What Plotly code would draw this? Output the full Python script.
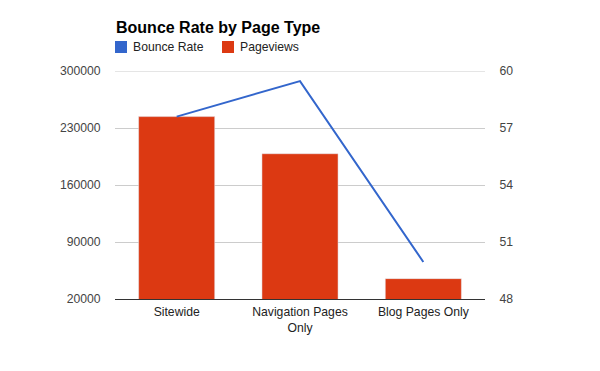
import plotly.graph_objects as go

categories = ["Sitewide", "Navigation Pages<br>Only", "Blog Pages Only"]
pageviews = [244000, 198400, 45000]
bounce_rate = [57.6, 59.47, 49.95]
left_ticks = [20000, 90000, 160000, 230000, 300000]
right_ticks = [48, 51, 54, 57, 60]
series_names = ["Bounce Rate", "Pageviews"]

RED = "#dc3912"
BLUE = "#3366cc"
FONT = "Liberation Sans, Arial, sans-serif"
FS = 12.2

W, H = 600, 371
ML, MR, MT, MB = 115, 115, 71, 72
PW, PH = W - ML - MR, H - MT - MB


def px(x):
    return (x - ML) / PW


def py(y):
    return (H - MB - y) / PH


fig = go.Figure()
fig.add_trace(go.Bar(x=categories, y=pageviews, marker_color=RED, name=series_names[1],
                     showlegend=False, yaxis="y"))
fig.add_trace(go.Scatter(x=categories, y=bounce_rate, mode="lines", name=series_names[0],
                         line=dict(color=BLUE, width=2), showlegend=False, yaxis="y2"))

# manual legend (square swatches like the reference)
legend_items = [(series_names[0], BLUE, 115), (series_names[1], RED, 222)]
shapes = [
    # top gridline at the upper range limit (plotly skips grid lines on the plot edge)
    dict(type="line", xref="paper", yref="y", x0=0, x1=1,
         y0=left_ticks[-1], y1=left_ticks[-1], line=dict(color="#cccccc", width=1),
         layer="below"),
]
annotations = []
for name, color, x0 in legend_items:
    shapes.append(dict(type="rect", xref="paper", yref="paper",
                       x0=px(x0), x1=px(x0 + 12), y0=py(53), y1=py(41),
                       fillcolor=color, line=dict(width=0)))
    annotations.append(dict(text=name, xref="paper", yref="paper", x=px(x0 + 16), y=py(47),
                            xanchor="left", yanchor="middle", showarrow=False,
                            font=dict(size=FS, color="#222222")))
annotations.append(dict(text="<b>Bounce Rate by Page Type</b>", xref="paper", yref="paper",
                        x=px(114), y=py(27), xanchor="left", yanchor="middle",
                        showarrow=False, font=dict(size=16, color="#000000")))

fig.update_layout(
    width=W, height=H,
    margin=dict(l=ML, r=MR, t=MT, b=MB, autoexpand=False),
    paper_bgcolor="white", plot_bgcolor="white",
    font=dict(family=FONT, size=FS, color="#444444"),
    showlegend=False,
    bargap=0.383,
    shapes=shapes,
    annotations=annotations,
    xaxis=dict(showline=True, linecolor="#333333", linewidth=1, showgrid=False,
               ticks="outside", ticklen=1, tickcolor="rgba(0,0,0,0)",
               tickfont=dict(color="#222222")),
    yaxis=dict(range=[left_ticks[0], left_ticks[-1]], tickvals=left_ticks,
               ticktext=[str(v) for v in left_ticks],
               gridcolor="#cccccc", showline=False, zeroline=False,
               ticks="outside", ticklen=11, tickcolor="rgba(0,0,0,0)"),
    yaxis2=dict(range=[right_ticks[0], right_ticks[-1]], tickvals=right_ticks,
                ticktext=[str(v) for v in right_ticks],
                overlaying="y", side="right", showgrid=False, zeroline=False,
                ticks="outside", ticklen=11, tickcolor="rgba(0,0,0,0)"),
)

fig.write_html("out.html", config={"displayModeBar": False},
               post_script="document.body.style.margin='0';")
